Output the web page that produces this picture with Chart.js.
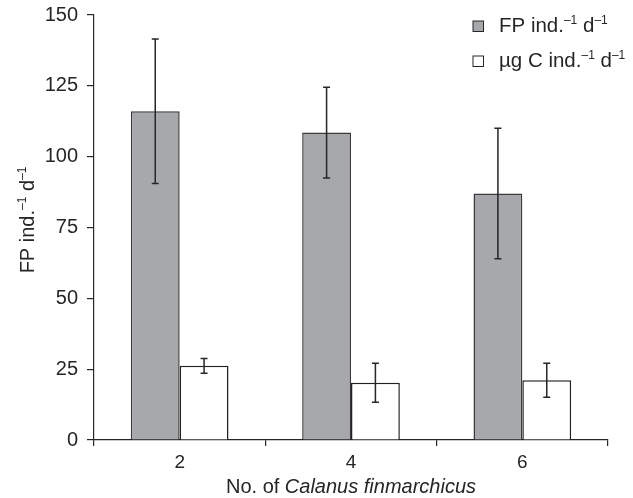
<!DOCTYPE html>
<html>
<head>
<meta charset="utf-8">
<script src="https://cdn.jsdelivr.net/npm/chart.js@4/dist/chart.umd.min.js"></script>
<style>
  html, body { margin: 0; padding: 0; background: #fff; }
  #wrap { width: 633px; height: 498px; }
</style>
</head>
<body>
<div id="wrap"><canvas id="chart"></canvas></div>
<script>
// valores
const categories = ['2', '4', '6'];
const fpValues = [116, 108.5, 87];
const fpErrors = [25.5, 16, 23];
const carbonValues = [26.2, 20.2, 21.1];
const carbonErrors = [2.6, 6.9, 6];
const yTicks = [0, 25, 50, 75, 100, 125, 150];

const FONT = '"Liberation Sans", Arial, sans-serif';
const INK = '#262626';

// texto con superindices: [texto, esSuper, cursiva]
function drawRich(ctx, parts, x, y, size, align) {
    const fontOf = p => (p[2] ? 'italic ' : '') + (p[1] ? Math.round(size * 0.6) : size) + 'px ' + FONT;
    let total = 0;
    parts.forEach(p => { ctx.font = fontOf(p); total += ctx.measureText(p[0]).width; });
    let cx = align === 'center' ? x - total / 2 : x;
    parts.forEach(p => {
        ctx.font = fontOf(p);
        ctx.textAlign = 'left';
        ctx.textBaseline = 'alphabetic';
        ctx.fillText(p[0], cx, p[1] ? y - size * 0.4 : y);
        cx += ctx.measureText(p[0]).width;
    });
}

const errorBars = {
    id: 'errorBars',
    afterDatasetsDraw(chart) {
        const ctx = chart.ctx;
        const y = chart.scales.y;
        const errs = [fpErrors, carbonErrors];
        ctx.save();
        ctx.strokeStyle = INK;
        ctx.lineWidth = 1.5;
        chart.data.datasets.forEach((ds, i) => {
            chart.getDatasetMeta(i).data.forEach((bar, j) => {
                const v = ds.data[j], e = errs[i][j];
                const top = y.getPixelForValue(v + e), bot = y.getPixelForValue(v - e);
                ctx.beginPath();
                ctx.moveTo(bar.x, top); ctx.lineTo(bar.x, bot);
                ctx.moveTo(bar.x - 3.5, top); ctx.lineTo(bar.x + 3.5, top);
                ctx.moveTo(bar.x - 3.5, bot); ctx.lineTo(bar.x + 3.5, bot);
                ctx.stroke();
            });
        });
        ctx.restore();
    }
};

const labelsPlugin = {
    id: 'labelsPlugin',
    afterDraw(chart) {
        const ctx = chart.ctx;
        const a = chart.chartArea;
        ctx.save();
        ctx.fillStyle = INK;

        // titulo eje x
        drawRich(ctx, [['No. of ', false], ['Calanus finmarchicus', false, true]], (a.left + a.right) / 2, 493, 20, 'center');

        // titulo eje y
        ctx.save();
        ctx.translate(34, 220);
        ctx.rotate(-Math.PI / 2);
        drawRich(ctx, [['FP ind.', false], ['\u20131', true], [' d', false], ['\u20131', true]], 0, 0, 20, 'center');
        ctx.restore();

        // leyenda
        const rows = [
            { fill: '#a7a8ab', parts: [['FP ind.', false], ['\u20131', true], [' d', false], ['\u20131', true]] },
            { fill: '#ffffff', parts: [['\u00b5g C ind.', false], ['\u20131', true], [' d', false], ['\u20131', true]] }
        ];
        rows.forEach((r, i) => {
            const base = 32 + i * 35;
            ctx.fillStyle = r.fill;
            ctx.fillRect(473, base - 11, 10.5, 10.5);
            ctx.strokeStyle = INK;
            ctx.lineWidth = 1;
            ctx.strokeRect(473, base - 11, 10.5, 10.5);
            ctx.fillStyle = INK;
            drawRich(ctx, r.parts, 499, base, 20.5, 'left');
        });
        ctx.restore();
    }
};

new Chart(document.getElementById('chart'), {
    type: 'bar',
    data: {
        labels: categories,
        datasets: [
            {
                label: 'FP ind.-1 d-1',
                data: fpValues,
                backgroundColor: '#a7a8ab',
                borderColor: '#3a3a3a',
                borderWidth: 1.5,
                categoryPercentage: 0.57,
                barPercentage: 1
            },
            {
                label: 'µg C ind.-1 d-1',
                data: carbonValues,
                backgroundColor: '#ffffff',
                borderColor: '#222',
                borderWidth: 1.5,
                categoryPercentage: 0.57,
                barPercentage: 1
            }
        ]
    },
    options: {
        responsive: true,
        maintainAspectRatio: false,
        animation: false,
        layout: { padding: { left: 0, top: 15, right: 25, bottom: 0 } },
        plugins: { legend: { display: false }, tooltip: { enabled: false } },
        scales: {
            x: {
                afterFit: s => { s.height = 58; s.paddingLeft = 0; s.paddingRight = 0; },
                grid: { offset: true, drawOnChartArea: false, tickLength: 6, color: INK, lineWidth: 1.2 },
                border: { color: INK, width: 1.2 },
                ticks: { color: INK, font: { family: FONT, size: 19 }, padding: 5 }
            },
            y: {
                min: 0,
                max: 150,
                afterFit: s => { s.width = 94; s.paddingTop = 0; s.paddingBottom = 0; },
                afterBuildTicks: s => { s.ticks = yTicks.map(v => ({ value: v })); },
                grid: { drawOnChartArea: false, tickLength: 7, color: INK, lineWidth: 1.2 },
                border: { color: INK, width: 1.2 },
                ticks: { color: INK, font: { family: FONT, size: 20 }, padding: 9 }
            }
        }
    },
    plugins: [errorBars, labelsPlugin]
});
</script>
</body>
</html>
